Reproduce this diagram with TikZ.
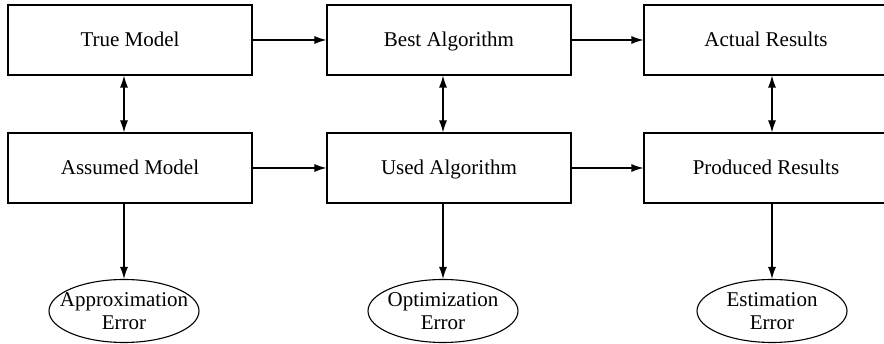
\documentclass[tikz,border=0pt]{standalone}
\usepackage{fontspec}
\setmainfont{Liberation Serif}
\usetikzlibrary{arrows.meta,shapes.geometric}

\newcommand{\errlines}[2]{\makebox[106pt]{#1}\\\makebox[106pt]{#2}}

\begin{document}
\begin{tikzpicture}[x=1pt, y=1pt, line width=1.1pt,
                    block/.style={draw, rectangle, minimum width=244pt, minimum height=70pt,
                                  text height=14pt, text depth=0pt, font=\fontsize{21}{24}\selectfont},
                    errnode/.style={draw, ellipse, minimum width=150pt, minimum height=63pt, inner sep=0pt,
                                    align=center, font=\fontsize{21}{23}\selectfont},
                    link/.style={-{Latex[length=12pt,width=8pt]}},
                    twoway/.style={{Latex[length=12pt,width=8pt]}-{Latex[length=12pt,width=8pt]}}]
                    \useasboundingbox (0,0) rectangle (884,344);
                    % top row
                    \node[block] (truemodel) at (130,304) {True Model};
                    \node[block] (bestalg) at (449,304) {Best Algorithm};
                    \node[block] (actual) at (766,304) {Actual Results};
                    % middle row
                    \node[block] (assumed) at (130,176) {Assumed Model};
                    \node[block] (usedalg) at (449,176) {Used Algorithm};
                    \node[block] (produced) at (766,176) {Produced Results};
                    % errors
                    \node[errnode] (approx) at (124,33) {\errlines{Approximation}{Error}};
                    \node[errnode] (optim) at (443,33) {\errlines{Optimization}{Error}};
                    \node[errnode] (estim) at (772,33) {\errlines{Estimation}{Error}};

                    \draw[link] (truemodel) -- (bestalg);
                    \draw[link] (bestalg) -- (actual);
                    \draw[link] (assumed) -- (usedalg);
                    \draw[link] (usedalg) -- (produced);

                    \draw[twoway] (truemodel.south -| approx.north) -- (assumed.north -| approx.north);
                    \draw[twoway] (bestalg.south -| optim.north) -- (usedalg.north -| optim.north);
                    \draw[twoway] (actual.south -| estim.north) -- (produced.north -| estim.north);

                    \draw[link] (assumed.south -| approx.north) -- (approx);
                    \draw[link] (usedalg.south -| optim.north) -- (optim);
                    \draw[link] (produced.south -| estim.north) -- (estim);
                \end{tikzpicture}
\end{document}
